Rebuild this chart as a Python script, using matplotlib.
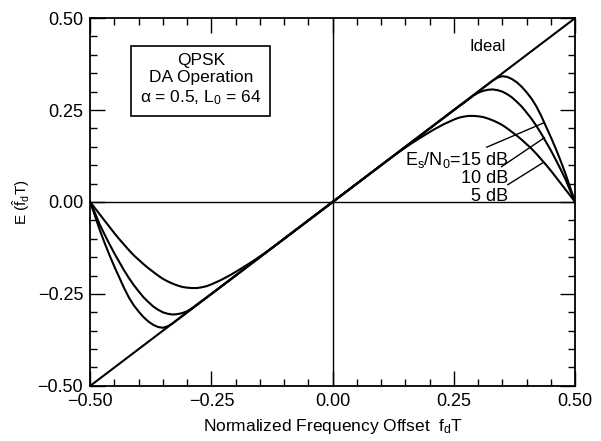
"""
Frequency detector characteristic E(f_d T) vs normalized offset, QPSK DA operation.
"""

import matplotlib
matplotlib.use("Agg")
import matplotlib.pyplot as plt
from matplotlib.ticker import MultipleLocator

plt.rcParams["font.family"] = ["Liberation Sans", "DejaVu Sans"]
plt.rcParams["mathtext.fontset"] = "custom"
plt.rcParams["mathtext.rm"] = "Liberation Sans"
plt.rcParams["mathtext.it"] = "Liberation Sans:italic"

# ideal characteristic
ideal_x = [-0.5, 0.5]
ideal_y = [-0.5, 0.5]

# Es/N0 = 15 dB
x15 = [-0.50, -0.49, -0.48, -0.47, -0.46, -0.45, -0.44, -0.43, -0.42, -0.41, -0.40, -0.39, -0.38, -0.37,
       -0.36, -0.35, -0.34, -0.33, -0.32,
       0.0,
       0.32, 0.33, 0.34, 0.35, 0.36, 0.37, 0.38, 0.39, 0.40, 0.41, 0.42, 0.43, 0.44, 0.45, 0.46, 0.47,
       0.48, 0.49, 0.50]
y15 = [0.0, -0.038, -0.077, -0.112, -0.145, -0.176, -0.205, -0.234, -0.260, -0.281, -0.298, -0.313, -0.325,
       -0.334, -0.340, -0.342, -0.338, -0.330, -0.32,
       0.0,
       0.32, 0.330, 0.338, 0.342, 0.340, 0.334, 0.325, 0.313, 0.298, 0.281, 0.260, 0.234, 0.205, 0.176,
       0.145, 0.112, 0.077, 0.038, 0.0]

# Es/N0 = 10 dB
x10 = [-0.50, -0.49, -0.48, -0.47, -0.46, -0.45, -0.44, -0.43, -0.42, -0.41, -0.40, -0.39, -0.38, -0.37,
       -0.36, -0.35, -0.34, -0.33, -0.32, -0.31, -0.30, -0.29, -0.28, -0.27, -0.26,
       0.0,
       0.26, 0.27, 0.28, 0.29, 0.30, 0.31, 0.32, 0.33, 0.34, 0.35, 0.36, 0.37, 0.38, 0.39, 0.40, 0.41,
       0.42, 0.43, 0.44, 0.45, 0.46, 0.47, 0.48, 0.49, 0.50]
y10 = [0.0, -0.030, -0.062, -0.089, -0.115, -0.140, -0.163, -0.186, -0.207, -0.226, -0.243, -0.259, -0.272,
       -0.284, -0.293, -0.300, -0.304, -0.306, -0.305, -0.302, -0.297, -0.289, -0.279, -0.269, -0.26,
       0.0,
       0.26, 0.269, 0.279, 0.289, 0.297, 0.302, 0.305, 0.306, 0.304, 0.300, 0.293, 0.284, 0.272, 0.259,
       0.243, 0.226, 0.207, 0.186, 0.163, 0.140, 0.115, 0.089, 0.062, 0.030, 0.0]

# Es/N0 = 5 dB
x5 = [-0.50, -0.49, -0.48, -0.47, -0.46, -0.45, -0.44, -0.43, -0.42, -0.41, -0.40, -0.39, -0.38, -0.37,
      -0.36, -0.35, -0.34, -0.33, -0.32, -0.31, -0.30, -0.29, -0.28, -0.27, -0.26, -0.25,
      -0.24, -0.23, -0.22, -0.21, -0.20, -0.18, -0.16, -0.14, -0.12, -0.10,
      0.0,
      0.10, 0.12, 0.14, 0.16, 0.18, 0.20, 0.21, 0.22, 0.23, 0.24, 0.25,
      0.26, 0.27, 0.28, 0.29, 0.30, 0.31, 0.32, 0.33, 0.34, 0.35, 0.36, 0.37, 0.38, 0.39, 0.40,
      0.41, 0.42, 0.43, 0.44, 0.45, 0.46, 0.47, 0.48, 0.49, 0.50]
y5 = [0.0, -0.017, -0.034, -0.051, -0.068, -0.085, -0.101, -0.116, -0.131, -0.145, -0.157, -0.169, -0.180,
      -0.190, -0.200, -0.209, -0.216, -0.222, -0.227, -0.231, -0.233, -0.234, -0.234, -0.232, -0.229, -0.224,
      -0.218, -0.212, -0.205, -0.198, -0.190, -0.174, -0.157, -0.139, -0.12, -0.10,
      0.0,
      0.10, 0.12, 0.139, 0.157, 0.174, 0.190, 0.198, 0.205, 0.212, 0.218, 0.224,
      0.229, 0.232, 0.234, 0.234, 0.233, 0.231, 0.227, 0.222, 0.216, 0.209, 0.200, 0.190, 0.180, 0.169,
      0.157, 0.145, 0.131, 0.116, 0.101, 0.085, 0.068, 0.051, 0.034, 0.017, 0.0]

ticks = [-0.50, -0.25, 0.00, 0.25, 0.50]
tick_labels = ["\u22120.50", "\u22120.25", "0.00", "0.25", "0.50"]

fig = plt.figure(figsize=(6.01, 4.41), dpi=100)
ax = fig.add_axes([0.150, 0.125, 0.807, 0.834])

ax.axhline(0, color="black", linewidth=1.0)
ax.axvline(0, color="black", linewidth=1.0)
ax.plot(ideal_x, ideal_y, color="black", linewidth=1.5)
for xs, ys in [(x15, y15), (x10, y10), (x5, y5)]:
    ax.plot(xs, ys, color="black", linewidth=1.5, solid_joinstyle="round")

ax.set_xlim(-0.5, 0.5)
ax.set_ylim(-0.5, 0.5)
ax.set_xticks(ticks)
ax.set_xticklabels(tick_labels)
ax.set_yticks(ticks)
ax.set_yticklabels(tick_labels)
ax.xaxis.set_minor_locator(MultipleLocator(0.05))
ax.yaxis.set_minor_locator(MultipleLocator(0.05))
ax.tick_params(which="both", direction="in", top=True, right=True, labelsize=13, width=1.0)
ax.tick_params(which="major", length=11, pad=5)
ax.tick_params(which="minor", length=5)
for s in ax.spines.values():
    s.set_linewidth(1.3)

ax.set_xlabel(r"Normalized Frequency Offset  f$_\mathrm{d}$T", fontsize=12.5, labelpad=5)
ax.set_ylabel(r"E ($\mathrm{\hat{f}_d}$T)", fontsize=11, labelpad=4)

ax.text(-0.272, 0.332, "QPSK\nDA Operation\n\u03b1 = 0.5, L$_\\mathrm{0}$ = 64",
        ha="center", va="center", fontsize=12.5, linespacing=1.2,
        bbox=dict(boxstyle="square,pad=0.5", facecolor="white", edgecolor="black", linewidth=1.2))

ax.text(0.32, 0.424, "Ideal", ha="center", va="center", fontsize=12)

ax.annotate("E$_\\mathrm{s}$/N$_\\mathrm{0}$=15 dB", xy=(0.435, 0.215), xytext=(0.362, 0.114),
            ha="right", va="center", fontsize=13,
            arrowprops=dict(arrowstyle="-", color="black", linewidth=1.0, shrinkA=0, shrinkB=0))
ax.annotate("10 dB", xy=(0.437, 0.175), xytext=(0.362, 0.065),
            ha="right", va="center", fontsize=13,
            arrowprops=dict(arrowstyle="-", color="black", linewidth=1.0, shrinkA=0, shrinkB=0))
ax.annotate("5 dB", xy=(0.435, 0.108), xytext=(0.362, 0.016),
            ha="right", va="center", fontsize=13,
            arrowprops=dict(arrowstyle="-", color="black", linewidth=1.0, shrinkA=0, shrinkB=0))

fig.savefig("out.png", dpi=100)
plt.close(fig)
